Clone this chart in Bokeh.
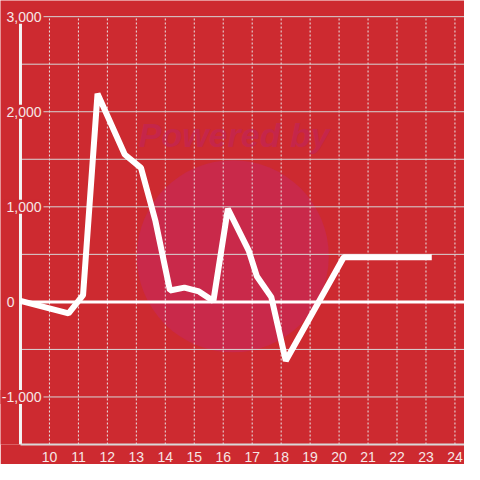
from bokeh.plotting import figure
from bokeh.models import Label, FixedTicker, Range1d
from bokeh.embed import file_html
from bokeh.resources import INLINE

# ---- data ----
hours = [9.0, 10.66, 11.16, 11.66, 12.6, 13.16, 13.66, 14.16, 14.66, 15.16,
         15.66, 16.16, 16.88, 17.16, 17.66, 18.16, 20.16, 23.2]
values = [10, -120, 70, 2190, 1550, 1410, 850, 120, 150, 110,
          10, 980, 540, 270, 50, -620, 470, 470]
x_ticks = list(range(10, 25))
y_label_ticks = [3000, 2000, 1000, 0, -1000]
y_label_text = ["3,000", "2,000", "1,000", "0", "-1,000"]
y_grid_ticks = [-1000, -500, 500, 1000, 1500, 2000, 2500, 3000]

X_START, X_END = 8.31, 24.33
Y_START, Y_END = -1500, 3170
X_AXIS_AT = 9
Y_TOP = 3000

BG = "#cd2a30"
LABEL_COLOR = "#f6e6e6"
FONT = "Liberation Sans"

p = figure(width=464, height=464, output_backend="svg", toolbar_location=None,
           x_range=Range1d(X_START, X_END), y_range=Range1d(Y_START, Y_END),
           min_border_left=0, min_border_right=0, min_border_top=0,
           min_border_bottom=0,
           background_fill_color=BG, border_fill_color=BG,
           outline_line_color=None)

p.yaxis.visible = False

xa = p.xaxis[0]
xa.ticker = FixedTicker(ticks=x_ticks)
xa.bounds = (X_AXIS_AT, X_END)
xa.axis_line_color = "#d9d9d9"
xa.axis_line_width = 2
xa.major_tick_line_color = None
xa.minor_tick_line_color = None
xa.major_label_text_color = LABEL_COLOR
xa.major_label_text_font = FONT
xa.major_label_text_font_size = "14px"
xa.major_label_standoff = 1

p.xgrid.visible = False
p.ygrid.visible = False

# watermark
p.scatter(x=[16.33], y=[480], size=192, marker="circle",
          fill_color="#c9294a", line_color=None, level="image")
p.add_layout(Label(x=16.38, y=1760, text="Powered by", text_align="center",
                   text_baseline="middle", text_font=FONT,
                   text_font_size="34px", text_font_style="bold italic",
                   text_color="#c5264a", level="image"))

# grid lines (vertical dotted, horizontal solid), bounded by the axes
n_x = len(x_ticks)
p.segment(x0=x_ticks, y0=[Y_START] * n_x, x1=x_ticks, y1=[Y_TOP] * n_x,
          line_color="#e8e8e8", line_width=1, line_dash="2 2",
          level="underlay")
n_y = len(y_grid_ticks)
p.segment(x0=[X_AXIS_AT] * n_y, y0=y_grid_ticks, x1=[X_END] * n_y,
          y1=y_grid_ticks, line_color="#d6d6d6", line_width=1,
          level="underlay")

# zero line and y axis line
p.segment(x0=[X_AXIS_AT], y0=[0], x1=[X_END], y1=[0], line_color="white",
          line_width=3)
p.segment(x0=[X_AXIS_AT], y0=[Y_START], x1=[X_AXIS_AT], y1=[Y_TOP],
          line_color="#f4f4f4", line_width=3)

p.line(hours, values, line_color="white", line_width=6)

label_offsets = [23, 23, 23, -4, 23]
for v, t, off in zip(y_label_ticks, y_label_text, label_offsets):
    p.add_layout(Label(x=X_AXIS_AT, y=v, text=t, x_offset=off,
                       text_align="right", text_baseline="middle",
                       text_font=FONT, text_font_size="14px",
                       text_color=LABEL_COLOR,
                       background_fill_color=BG, padding=2))

open("out.html", "w").write(file_html(p, INLINE))
